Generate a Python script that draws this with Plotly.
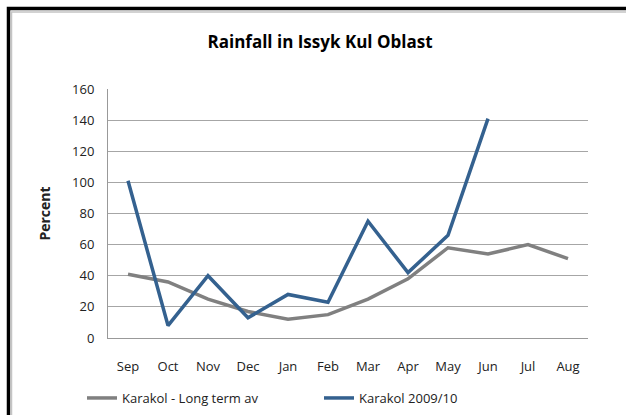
import plotly.graph_objects as go

months = ["Sep", "Oct", "Nov", "Dec", "Jan", "Feb", "Mar", "Apr", "May", "Jun", "Jul", "Aug"]
long_term = [41, 36, 25, 17, 12, 15, 25, 38, 58, 54, 60, 51]
season_0910 = [101, 8, 40, 13, 28, 23, 75, 42, 66, 141]
y_ticks = [0, 20, 40, 60, 80, 100, 120, 140, 160]

GRAY = "#808080"
BLUE = "#34618f"
FONT = "Open Sans"

# plot area in pixels, used to place the frame in paper coords
L, R, T, B = 108, 588, 89, 338
W, H = 626, 415


def px_x(x):
    return (x - L) / (R - L)


def px_y(y):
    return (B - y) / (B - T)


fig = go.Figure()
fig.add_trace(go.Scatter(
    x=months, y=long_term, mode="lines", name="Karakol - Long term av",
    line=dict(color=GRAY, width=3.5),
))
fig.add_trace(go.Scatter(
    x=months[:len(season_0910)], y=season_0910, mode="lines", name="Karakol 2009/10",
    line=dict(color=BLUE, width=3.5),
))

# frame of the original chart box: only its top and left edges are in view
fig.add_shape(type="path", xref="paper", yref="paper",
              path=f"M {px_x(8.5)},{px_y(H)} L {px_x(8.5)},{px_y(8.5)} L {px_x(W)},{px_y(8.5)}",
              line=dict(color="black", width=3.5))
fig.add_shape(type="path", xref="paper", yref="paper",
              path=f"M {px_x(11.5)},{px_y(H)} L {px_x(11.5)},{px_y(12)} L {px_x(W)},{px_y(12)}",
              line=dict(color="#c4c4c4", width=1.5))

fig.update_layout(
    width=W, height=H,
    margin=dict(l=L, r=W - R, t=T, b=H - B, autoexpand=False),
    paper_bgcolor="white", plot_bgcolor="white",
    font=dict(family=FONT, size=13, color="#222222"),
    title=dict(text="<b>Rainfall in Issyk Kul Oblast</b>", x=320 / W, xanchor="center",
               y=1 - 42 / H, yanchor="middle", font=dict(size=17, color="black")),
    showlegend=True,
    legend=dict(orientation="h", x=px_x(82), xanchor="left", y=px_y(398), yanchor="middle",
                entrywidth=192, entrywidthmode="pixels", font=dict(size=13),
                bgcolor="rgba(0,0,0,0)"),
    xaxis=dict(type="category", categoryorder="array", categoryarray=months,
               range=[-0.5, 11.5], showgrid=False, showline=True, linecolor="#999999",
               linewidth=1, ticks="", ticklabelstandoff=16, tickfont=dict(size=13),
               automargin=False),
    yaxis=dict(range=[0, 160], tickvals=y_ticks, showgrid=True, gridcolor="#a6a6a6",
               gridwidth=1, showline=True, linecolor="#999999", linewidth=1, ticks="",
               ticklabelstandoff=10, zeroline=False, tickfont=dict(size=13),
               automargin=False,
               title=dict(text="<b>Percent</b>", font=dict(size=14), standoff=18)),
)

# the page body has a default 8px margin and may scroll; drop both
fig.write_html(
    "out.html",
    config={"displayModeBar": False},
    post_script="document.body.style.margin='0';document.body.style.overflow='hidden';"
                "document.documentElement.style.overflow='hidden';",
)
